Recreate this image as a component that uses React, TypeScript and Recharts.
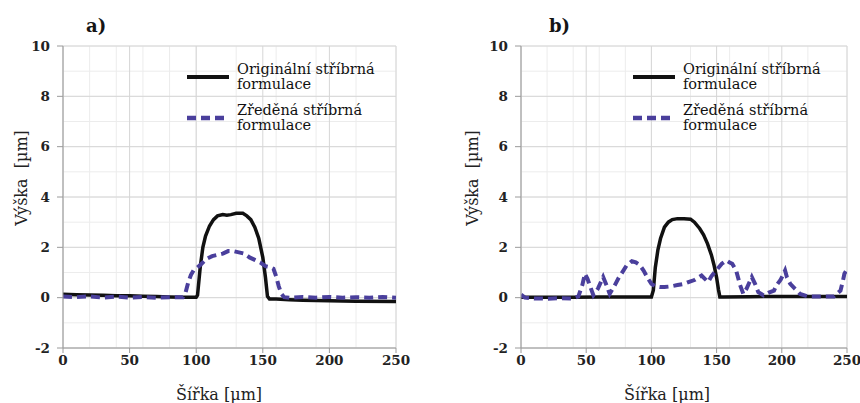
import React from 'react';
import { LineChart, Line, XAxis, YAxis, CartesianGrid } from 'recharts';

// ---------- data ----------
const xTicks = [0, 50, 100, 150, 200, 250];
const yTicks = [-2, 0, 2, 4, 6, 8, 10];
const xMinor = [0, 10, 20, 30, 40, 50, 60, 70, 80, 90, 100, 110, 120, 130, 140, 150, 160, 170, 180, 190, 200, 210, 220, 230, 240, 250];
const yMinor = [-2, -1.5, -1, -0.5, 0, 0.5, 1, 1.5, 2, 2.5, 3, 3.5, 4, 4.5, 5, 5.5, 6, 6.5, 7, 7.5, 8, 8.5, 9, 9.5, 10];

const seriesNames = ['Originální stříbrná formulace', 'Zředěná stříbrná formulace'];
const panelLabels = ['a)', 'b)'];
const xTitle = 'Šířka [µm]';
const yTitle = 'Výška  [µm]';

// panel a) original
const aOrigX = [0, 10, 20, 30, 40, 50, 60, 70, 80, 90, 100, 101, 103, 105, 107, 110, 113, 116, 120, 123, 126, 130, 135, 138, 141, 144, 147, 150, 152, 153.5, 155, 160, 170, 180, 200, 220, 250];
const aOrigY = [0.14, 0.12, 0.11, 0.1, 0.08, 0.08, 0.06, 0.05, 0.03, 0.02, 0.02, 0.1, 1.2, 2.0, 2.45, 2.85, 3.1, 3.25, 3.3, 3.28, 3.3, 3.35, 3.35, 3.25, 3.1, 2.8, 2.35, 1.6, 0.8, 0.05, -0.05, -0.05, -0.08, -0.1, -0.12, -0.14, -0.15];
// panel a) diluted
const aDilX = [0, 10, 20, 30, 40, 50, 60, 70, 80, 90, 92, 94, 96, 98, 100, 104, 108, 112, 116, 120, 124, 128, 132, 136, 140, 144, 148, 152, 156, 158, 160, 162, 164, 166, 170, 180, 190, 200, 210, 220, 230, 240, 250];
const aDilY = [0.05, 0.02, 0.05, 0.0, 0.04, 0.0, 0.03, 0.0, 0.02, 0.02, 0.2, 0.6, 0.9, 1.08, 1.15, 1.35, 1.55, 1.65, 1.7, 1.75, 1.85, 1.85, 1.8, 1.75, 1.6, 1.5, 1.4, 1.25, 1.2, 1.15, 0.85, 0.45, 0.15, 0.02, 0.0, 0.03, 0.0, 0.03, 0.0, 0.02, 0.0, 0.03, 0.0];
// panel b) original
const bOrigX = [0, 20, 40, 60, 80, 100, 101.5, 103, 105, 107, 110, 113, 116, 120, 125, 130, 133, 137, 140, 143, 146, 148, 150, 151.5, 152.5, 155, 175, 200, 225, 250];
const bOrigY = [0.02, 0.02, 0.02, 0.03, 0.03, 0.03, 0.3, 1.2, 1.9, 2.35, 2.8, 3.0, 3.1, 3.14, 3.14, 3.12, 3.0, 2.75, 2.5, 2.15, 1.7, 1.3, 0.8, 0.3, 0.03, 0.03, 0.04, 0.05, 0.05, 0.05];
// panel b) diluted
const bDilX = [0, 3, 10, 20, 30, 40, 44, 47, 49, 51, 53, 55.5, 59, 63, 65.5, 68, 72, 75, 77, 81, 85, 88, 91, 94, 97.5, 100, 103, 107, 110, 115, 120, 125, 130, 133, 136, 138.5, 141, 143.5, 146, 150, 154, 157.5, 160, 162, 165, 168, 170.5, 173, 177, 179.5, 182, 186, 190, 194, 196, 199, 202.5, 204, 206.5, 210, 214, 220, 230, 240, 245, 247, 248, 249.5];
const bDilY = [0.12, 0.0, -0.03, -0.04, -0.02, -0.03, 0.05, 0.5, 0.95, 0.75, 0.45, 0.1, 0.36, 0.82, 0.5, 0.15, 0.5, 0.8, 0.95, 1.28, 1.45, 1.4, 1.3, 1.08, 0.75, 0.55, 0.45, 0.42, 0.42, 0.45, 0.5, 0.55, 0.65, 0.7, 0.8, 0.88, 0.75, 0.62, 0.85, 1.1, 1.35, 1.48, 1.4, 1.35, 1.08, 0.5, 0.15, 0.36, 0.82, 0.55, 0.22, 0.09, 0.2, 0.28, 0.5, 0.7, 1.08, 0.8, 0.55, 0.36, 0.15, 0.05, 0.05, 0.05, 0.28, 0.7, 0.95, 1.08];

const zip = (xs: number[], ys: number[]) => xs.map((x, i) => ({ x, y: ys[i] }));

const colors = ['#111111', '#4a3f9c'];
const widths = [3.5, 4];
const dashes = ['', '9 5'];
const FONT = '"DejaVu Serif", serif';

type PanelProps = {
  left: number;
  label: string;
  orig: { x: number; y: number }[];
  dil: { x: number; y: number }[];
  marginLeft: number;
  marginRight: number;
  legendLeft: number;
  labelX: number;
  yTitleX: number;
  xTitleX: number;
};

const LegendBox = ({ left }: { left: number }) => (
  <div style={{ position: 'absolute', left, top: 62, fontFamily: FONT, fontSize: 14.5, lineHeight: '15px', color: '#111' }}>
    {seriesNames.map((name, i) => {
      const words = name.split(' ');
      const last = words.pop();
      return (
        <div key={i} style={{ display: 'flex', alignItems: 'center', marginBottom: 11 }}>
          <svg width={42} height={10} style={{ display: 'block' }}>
            <line x1={0} x2={42} y1={5} y2={5} stroke={colors[i]} strokeWidth={widths[i] + 0.5} strokeDasharray={dashes[i] || undefined} />
          </svg>
          <div style={{ marginLeft: 8 }}>
            <div>{words.join(' ')}</div>
            <div>{last}</div>
          </div>
        </div>
      );
    })}
  </div>
);

const Panel = (p: PanelProps) => (
  <div style={{ position: 'absolute', left: p.left, top: 0, width: 430, height: 403 }}>
    <LineChart width={430} height={403} margin={{ top: 46, right: p.marginRight, left: p.marginLeft, bottom: 0 }}>
      <CartesianGrid stroke="#ececec" strokeWidth={1} horizontalValues={yMinor} verticalValues={xMinor} />
      <CartesianGrid stroke="#d6d6d6" strokeWidth={1} horizontalValues={yTicks} verticalValues={xTicks} />
      <XAxis
        dataKey="x"
        type="number"
        domain={[0, 250]}
        ticks={xTicks}
        allowDataOverflow
        height={55}
        tickSize={5}
        tickMargin={2}
        stroke="#9a9a9a"
        tick={{ fontFamily: FONT, fontSize: 13.5, fontWeight: 'bold', fill: '#222' }}
      />
      <YAxis
        type="number"
        domain={[-2, 10]}
        ticks={yTicks}
        allowDataOverflow
        width={63}
        tickSize={6}
        tickMargin={7}
        stroke="#9a9a9a"
        tick={{ fontFamily: FONT, fontSize: 13.5, fontWeight: 'bold', fill: '#222' }}
      />
      <Line data={p.orig} dataKey="y" name={seriesNames[0]} type="linear" stroke={colors[0]} strokeWidth={widths[0]} dot={false} isAnimationActive={false} />
      <Line data={p.dil} dataKey="y" name={seriesNames[1]} type="linear" stroke={colors[1]} strokeWidth={widths[1]} strokeDasharray={dashes[1]} dot={false} isAnimationActive={false} />
    </LineChart>
    <LegendBox left={p.legendLeft} />
    <div style={{ position: 'absolute', left: p.labelX, top: 15, fontFamily: FONT, fontSize: 18, fontWeight: 'bold', color: '#151515' }}>{p.label}</div>
    <div style={{ position: 'absolute', left: p.xTitleX, top: 385, width: 120, marginLeft: -60, textAlign: 'center', fontFamily: FONT, fontSize: 16, color: '#222', whiteSpace: 'pre' }}>{xTitle}</div>
    <div style={{ position: 'absolute', left: p.yTitleX, top: 178, width: 140, height: 20, marginLeft: -70, marginTop: -10, lineHeight: '20px', textAlign: 'center', fontFamily: FONT, fontSize: 16, color: '#222', transform: 'rotate(-90deg)', whiteSpace: 'pre' }}>{yTitle}</div>
  </div>
);

export default function App() {
  return (
    <div style={{ position: 'absolute', left: 0, top: 0, width: 860, height: 403, background: '#fff', overflow: 'hidden' }}>
      <Panel left={0} label={panelLabels[0]} orig={zip(aOrigX, aOrigY)} dil={zip(aDilX, aDilY)} marginLeft={0} marginRight={34} legendLeft={187} labelX={86} yTitleX={22} xTitleX={219} />
      <Panel left={430} label={panelLabels[1]} orig={zip(bOrigX, bOrigY)} dil={zip(bDilX, bDilY)} marginLeft={28} marginRight={13} legendLeft={203} labelX={119} yTitleX={43} xTitleX={237} />
    </div>
  );
}
